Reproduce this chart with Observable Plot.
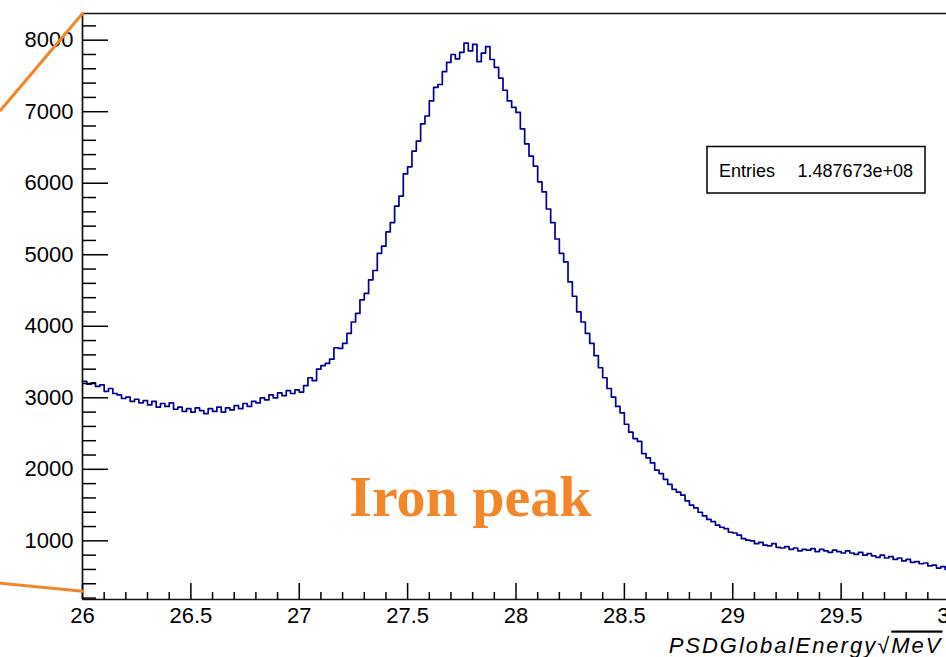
<!DOCTYPE html>
<html>
<head>
<meta charset="utf-8">
<script src="https://cdn.jsdelivr.net/npm/d3@7"></script>
<script src="https://cdn.jsdelivr.net/npm/@observablehq/plot@0.6"></script>
<style>
  html, body { margin: 0; padding: 0; background: #fff; overflow: hidden; }
  #chart { position: relative; width: 946px; height: 657px; overflow: hidden; }
  #chart svg { max-width: none !important; width: 971px !important; height: 657px !important; }
</style>
</head>
<body>
<div id="chart"></div>
<script>
// Histogram binning
const binStart = 26;
const binWidth = 0.02;
// Bin contents
const counts = [
  3230, 3190, 3210, 3160, 3180, 3090, 3130, 3060, 3040, 2990,
  3010, 2950, 2980, 2930, 2960, 2900, 2950, 2870, 2920, 2880,
  2930, 2840, 2870, 2810, 2850, 2800, 2860, 2820, 2780, 2850,
  2810, 2870, 2800, 2860, 2830, 2890, 2850, 2920, 2880, 2950,
  2930, 3000, 2970, 3040, 3000, 3070, 3030, 3100, 3060, 3110,
  3080, 3170, 3280, 3240, 3400, 3450, 3480, 3540, 3700, 3690,
  3760, 3900, 4060, 4180, 4370, 4460, 4650, 4780, 5020, 5120,
  5320, 5450, 5680, 5820, 6130, 6230, 6450, 6590, 6830, 6940,
  7150, 7340, 7380, 7560, 7690, 7800, 7740, 7830, 7960, 7850,
  7940, 7700, 7820, 7910, 7730, 7620, 7470, 7300, 7150, 7060,
  6990, 6760, 6550, 6380, 6240, 6020, 5880, 5640, 5450, 5220,
  5020, 4900, 4620, 4420, 4200, 4060, 3900, 3760, 3590, 3420,
  3280, 3130, 3010, 2880, 2790, 2630, 2520, 2430, 2390, 2220,
  2160, 2090, 1990, 1940, 1860, 1790, 1720, 1680, 1640, 1560,
  1500, 1460, 1400, 1350, 1300, 1270, 1220, 1190, 1170, 1120,
  1110, 1080, 1030, 1010, 1000, 960, 980, 940, 930, 960,
  910, 900, 920, 880, 900, 860, 880, 870, 890, 850,
  880, 860, 840, 870, 850, 830, 860, 830, 810, 840,
  800, 820, 790, 770, 800, 760, 780, 740, 760, 720,
  740, 700, 710, 680, 690, 650, 660, 620, 640, 600
];

// Axes
const xDomain = [26, 30];
const yDomain = [180, 8373];
const xMajorTicks = [26, 26.5, 27, 27.5, 28, 28.5, 29, 29.5, 30];
const xMinorTicks = [26.1, 26.2, 26.3, 26.4, 26.6, 26.7, 26.8, 26.9,
  27.1, 27.2, 27.3, 27.4, 27.6, 27.7, 27.8, 27.9,
  28.1, 28.2, 28.3, 28.4, 28.6, 28.7, 28.8, 28.9,
  29.1, 29.2, 29.3, 29.4, 29.6, 29.7, 29.8, 29.9];
const yMajorTicks = [1000, 2000, 3000, 4000, 5000, 6000, 7000, 8000];
const yMinorTicks = [200, 400, 600, 800, 1200, 1400, 1600, 1800, 2200, 2400, 2600, 2800,
  3200, 3400, 3600, 3800, 4200, 4400, 4600, 4800, 5200, 5400, 5600, 5800,
  6200, 6400, 6600, 6800, 7200, 7400, 7600, 7800, 8200];
const xTitle = "PSDGlobalEnergy√MeV";

// Annotations
const annotations = [{x: 27.79, y: 1345, text: "Iron peak"}];
const calloutTop = [{x: 25.622, y: 7021}, {x: 26, y: 8373}];
const calloutBottom = [{x: 25.622, y: 408}, {x: 26, y: 296}];
const statsLabel = "Entries";
const statsValue = "1.487673e+08";

const hist = counts.map((c, i) => ({x: binStart + i * binWidth, y: c}));
hist.push({x: binStart + counts.length * binWidth, y: counts[counts.length - 1]});

const orange = "#f4862a";
const curveColor = "#000099";
const fmt = d => String(d);

const plot = Plot.plot({
  width: 971,
  height: 657,
  marginLeft: 82,
  marginRight: 22,
  marginTop: 13,
  marginBottom: 58,
  style: {fontFamily: "'Liberation Sans', Arial, sans-serif", fontSize: "22px", background: "#fff", color: "#000", overflow: "visible"},
  x: {domain: xDomain, label: null},
  y: {domain: yDomain, label: null},
  marks: [
    Plot.line(hist, {x: "x", y: "y", curve: "step-after", stroke: curveColor, strokeWidth: 1.7}),
    Plot.ruleY([yDomain[1]], {stroke: "#111", strokeWidth: 1.7}),
    Plot.ruleY([yDomain[0]], {stroke: "#111", strokeWidth: 1.7}),
    Plot.ruleX([xDomain[0]], {stroke: "#111", strokeWidth: 1.7}),
    Plot.axisY({ticks: yMajorTicks, tickSize: -26, fill: "none", strokeWidth: 1.5, label: null}),
    Plot.axisY({ticks: yMinorTicks, tickSize: -14, fill: "none", strokeWidth: 1.5, label: null}),
    Plot.axisY({ticks: yMajorTicks, tickSize: 0, tickPadding: 9, label: null, fontSize: 22, tickFormat: fmt}),
    Plot.axisX({ticks: xMajorTicks, tickSize: -16, fill: "none", strokeWidth: 1.5, label: null}),
    Plot.axisX({ticks: xMinorTicks, tickSize: -7, fill: "none", strokeWidth: 1.5, label: null}),
    Plot.axisX({ticks: xMajorTicks, tickSize: 0, tickPadding: 8, label: null, fontSize: 22, tickFormat: fmt}),
    Plot.text([xTitle], {text: d => d, frameAnchor: "bottom-right", dx: -7, dy: 53, textAnchor: "end", lineAnchor: "bottom", fontSize: 22}),
    Plot.line(calloutTop, {x: "x", y: "y", stroke: orange, strokeWidth: 3}),
    Plot.line(calloutBottom, {x: "x", y: "y", stroke: orange, strokeWidth: 3}),
    Plot.text(annotations, {x: "x", y: "y", text: "text", fill: orange, fontSize: 58, fontWeight: "bold", fontFamily: "'Liberation Serif', 'Times New Roman', serif", textAnchor: "middle", lineAnchor: "bottom"})
  ]
});

document.getElementById("chart").appendChild(plot);

// Axis title with italic parts and the radical overline
d3.select(plot).selectAll("text").filter(function() { return this.textContent === xTitle; }).each(function() {
  const t = d3.select(this);
  t.text(null).attr("letter-spacing", "2");
  t.append("tspan").attr("font-style", "italic").text("PSDGlobalEnergy");
  t.append("tspan").text("√");
  t.append("tspan").attr("font-style", "italic").style("text-decoration", "overline").text("MeV");
});

// Statistics box
const svg = d3.select(plot);
const box = svg.append("g").attr("text-anchor", "start");
box.append("rect").attr("x", 707).attr("y", 146.5).attr("width", 218).attr("height", 46.5)
  .attr("fill", "#fff").attr("stroke", "#000").attr("stroke-width", 1.5);
box.append("text").attr("x", 719).attr("y", 177).attr("font-size", 18).attr("fill", "#000").attr("text-anchor", "start").text(statsLabel);
box.append("text").attr("x", 913).attr("y", 177).attr("font-size", 18).attr("fill", "#000").attr("text-anchor", "end").text(statsValue);
</script>
</body>
</html>
